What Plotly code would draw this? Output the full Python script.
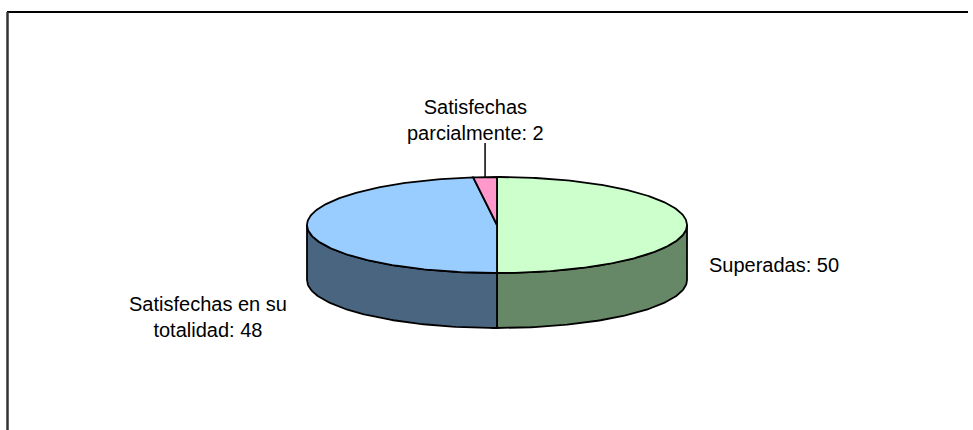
import numpy as np
import plotly.graph_objects as go

# Pie data
categories = ["Superadas", "Satisfechas en su totalidad", "Satisfechas parcialmente"]
values = [50, 48, 2]
label_texts = ["Superadas: 50", "Satisfechas en su<br>totalidad: 48", "Satisfechas<br>parcialmente: 2"]
top_colors = ["#CCFFCC", "#99CCFF", "#FF99CC"]
side_colors = ["#668866", "#4A6580", "#80506A"]

# 3D pie geometry (pixel space of the page)
CX, CY = 497.0, 225.0
RX, RY = 190.0, 48.0
DEPTH = 55.0
W, H = 973, 430


def rim(theta_deg, dy=0.0):
    t = np.radians(theta_deg)
    return CX + RX * np.sin(t), CY - RY * np.cos(t) + dy


total = float(sum(values))
bounds = np.concatenate([[0.0], np.cumsum(values) / total * 360.0])

fig = go.Figure()

# Front side walls (visible between 90 and 270 degrees clockwise from top)
for i in range(len(values)):
    a0, a1 = max(bounds[i], 90.0), min(bounds[i + 1], 270.0)
    if a1 <= a0:
        continue
    th = np.linspace(a0, a1, 80)
    xt, yt = rim(th)
    xb, yb = rim(th[::-1], DEPTH)
    xs = np.concatenate([xt, xb, [xt[0]]])
    ys = np.concatenate([yt, yb, [yt[0]]])
    fig.add_trace(go.Scatter(x=xs, y=ys, mode="lines", fill="toself",
                             fillcolor=side_colors[i],
                             line=dict(color="black", width=1.8),
                             hoverinfo="skip", showlegend=False))

# Top faces of the slices
for i in range(len(values)):
    th = np.linspace(bounds[i], bounds[i + 1], max(8, int(values[i] * 4)))
    xt, yt = rim(th)
    xs = np.concatenate([[CX], xt, [CX]])
    ys = np.concatenate([[CY], yt, [CY]])
    fig.add_trace(go.Scatter(x=xs, y=ys, mode="lines", fill="toself",
                             fillcolor=top_colors[i],
                             line=dict(color="black", width=1.8),
                             hoverinfo="skip", showlegend=False))

# Leader line for the small slice
mid_small = (bounds[2] + bounds[3]) / 2.0
lx, ly = rim(mid_small)
fig.add_shape(type="line", x0=lx, y0=ly, x1=lx, y1=143,
              line=dict(color="black", width=1.5))

font = dict(family="Liberation Sans, Arial, sans-serif", size=20, color="black")
fig.add_annotation(x=707, y=265, text=label_texts[0], showarrow=False,
                   xanchor="left", yanchor="middle", font=font)
fig.add_annotation(x=208, y=317, text=label_texts[1], showarrow=False,
                   xanchor="center", yanchor="middle", align="center", font=font)
fig.add_annotation(x=475, y=120, text=label_texts[2], showarrow=False,
                   xanchor="center", yanchor="middle", align="center", font=font)

# Chart frame
fig.add_shape(type="line", x0=7, y0=12, x1=968, y1=12,
              line=dict(color="black", width=2))
fig.add_shape(type="line", x0=7.5, y0=12, x1=7.5, y1=H,
              line=dict(color="#333333", width=2.5))

fig.update_xaxes(range=[0, W], visible=False, fixedrange=True)
fig.update_yaxes(range=[H, 0], visible=False, fixedrange=True)
fig.update_layout(width=W, height=H, margin=dict(l=0, r=0, t=0, b=0),
                  paper_bgcolor="white", plot_bgcolor="white")

fig.write_html("out.html")
